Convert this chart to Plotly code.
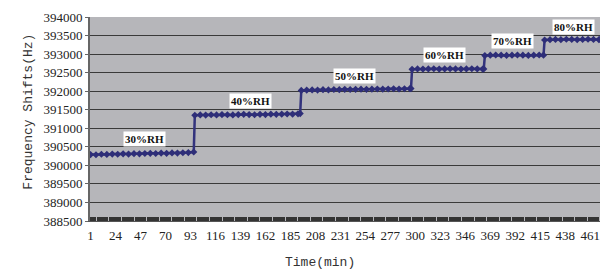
import plotly.graph_objects as go

# ---- data ----
t30 = list(range(1, 97, 5))
v30 = [390290, 390285, 390300, 390295, 390305, 390300, 390310, 390305, 390315, 390310,
       390320, 390325, 390320, 390330, 390325, 390335, 390330, 390340, 390345, 390360]
t40 = list(range(97, 193, 5)) + [194]
v40 = [391350, 391360, 391355, 391365, 391360, 391370, 391365, 391360, 391370, 391375,
       391370, 391365, 391375, 391370, 391380, 391375, 391380, 391385, 391380, 391390, 391395]
t50 = list(range(195, 296, 5)) + [296]
v50 = [392020, 392030, 392035, 392030, 392040, 392035, 392045, 392040, 392050, 392045, 392050,
       392055, 392050, 392055, 392060, 392055, 392060, 392065, 392060, 392065, 392070, 392070]
t60 = list(range(297, 363, 5)) + [363]
v60 = [392590, 392600, 392595, 392600, 392605, 392595, 392600, 392605, 392600, 392595,
       392600, 392605, 392600, 392595, 392600]
t70 = list(range(364, 419, 5)) + [418]
v70 = [392960, 392970, 392975, 392970, 392965, 392970, 392975, 392970, 392965, 392970, 392975, 392970]
t80 = list(range(419, 471, 5)) + [470]
v80 = [393380, 393390, 393395, 393390, 393400, 393395, 393390, 393395, 393400, 393395, 393390, 393395]

times = t30 + t40 + t50 + t60 + t70 + t80
freqs = v30 + v40 + v50 + v60 + v70 + v80

x_ticks = list(range(1, 470, 23))
y_ticks = list(range(388500, 394001, 500))

labels = ["30%RH", "40%RH", "50%RH", "60%RH", "70%RH", "80%RH"]
label_x = [51, 148.6, 244.3, 327, 389, 445.8]
label_y = [390720, 391745, 392420, 392985, 393340, 393730]

fig = go.Figure()
fig.add_trace(go.Scatter(
    x=times, y=freqs, mode="lines+markers",
    line=dict(color="#33337d", width=2.5),
    marker=dict(symbol="diamond", size=5.5, color="#2e2e78"),
    showlegend=False, hoverinfo="skip",
))

for txt, lx, ly in zip(labels, label_x, label_y):
    fig.add_annotation(x=lx, y=ly, xref="x", yref="y", text="<b>" + txt + "</b>", showarrow=False,
                       font=dict(family="Liberation Serif", size=11, color="#111111"),
                       bgcolor="white", borderpad=1)

fig.add_annotation(x=0.451, y=-0.201, xref="paper", yref="paper", text="Time(min)",
                   showarrow=False, yanchor="middle",
                   font=dict(family="Liberation Mono", size=13, color="#333333"))
fig.add_annotation(x=-0.141, y=0.534, xref="paper", yref="paper", text="Frequency Shifts(Hz)",
                   textangle=-90, showarrow=False,
                   font=dict(family="Liberation Mono", size=13, color="#333333"))

fig.update_layout(
    width=600, height=269,
    margin=dict(l=90, r=0, t=17, b=48),
    paper_bgcolor="white", plot_bgcolor="#b6b6ba",
    font=dict(family="Liberation Serif", size=13, color="#222222"),
)
fig.update_xaxes(
    range=[0.5, 470], tickmode="array", tickvals=x_ticks, ticktext=[str(v) for v in x_ticks],
    showgrid=False, zeroline=False, showline=True, linecolor="#555555", linewidth=1,
    ticks="", ticklabelstandoff=2, automargin=False,
    minor=dict(dtick=1, tick0=1, ticks="inside", ticklen=4, tickcolor="#333333", tickwidth=0.8, showgrid=False),
)
fig.update_yaxes(
    range=[388500, 394000], tickmode="array", tickvals=y_ticks, ticktext=[str(v) for v in y_ticks],
    showgrid=True, gridcolor="#3a3a3a", gridwidth=1, zeroline=False, automargin=False,
    showline=True, linecolor="#666666", linewidth=2, ticks="outside", ticklen=3, tickcolor="#666666",
)

fig.write_html("out.html", config={"displayModeBar": False},
               post_script="document.body.style.margin='0';document.body.style.overflow='hidden';")
